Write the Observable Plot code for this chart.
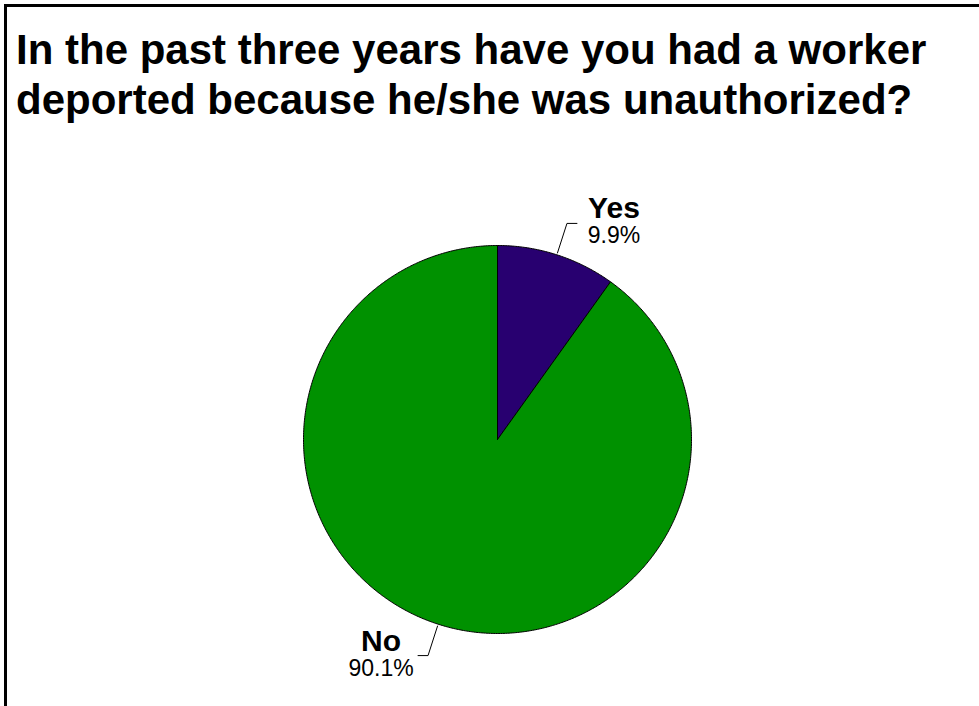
<!DOCTYPE html>
<html><head><meta charset="utf-8">
<script src="https://cdn.jsdelivr.net/npm/d3@7"></script>
<script src="https://cdn.jsdelivr.net/npm/@observablehq/plot@0.6"></script>
<style>
body{margin:0;background:#fff;}
#wrap{position:relative;width:979px;height:706px;overflow:hidden;font-family:"Liberation Sans",Arial,sans-serif;background:#fff;}
#frame{position:absolute;left:4px;top:4px;right:-10px;bottom:-10px;border-left:3px solid #000;border-top:3px solid #000;}
#title{position:absolute;left:16px;top:25px;font-size:42px;font-weight:bold;line-height:50px;color:#000;white-space:nowrap;}
#chart{position:absolute;left:0;top:140px;}
</style></head><body>
<div id="wrap"><div id="frame"></div><div id="title">In the past three years have you had a worker<br>deported because he/she was unauthorized?</div><div id="chart"></div></div>
<script>
const categories = ["Yes", "No"];
const values = [9.9, 90.1];
const valueLabels = ["9.9%", "90.1%"];
const colors = ["#280070", "#009100"];

const W = 979, H = 566, CX = 497, CY = 299, R = 194;
const total = d3.sum(values);
const slices = [];
const leaders = [];
const labels = [];
let cum = 0;
categories.forEach((cat, i) => {
  const a0 = cum / total * 2 * Math.PI;
  cum += values[i];
  const a1 = cum / total * 2 * Math.PI;
  slices.push({cat, x: 0, y: 0});
  const n = Math.max(2, Math.ceil((a1 - a0) / (Math.PI / 360)));
  for (let k = 0; k <= n; k++) {
    const a = a0 + (a1 - a0) * k / n;
    slices.push({cat, x: Math.sin(a), y: Math.cos(a)});
  }
  slices.push({cat, x: 0, y: 0});
  const am = (a0 + a1) / 2;
  const side = Math.sin(am) >= 0 ? 1 : -1;
  const p1 = {x: 1.01 * Math.sin(am), y: 1.01 * Math.cos(am)};
  const p2 = {x: 1.17 * Math.sin(am), y: 1.17 * Math.cos(am)};
  const p3 = {x: p2.x + side * 10 / R, y: p2.y};
  leaders.push({cat, ...p1}, {cat, ...p2}, {cat, ...p3});
  labels.push({cat, value: valueLabels[i], x: p2.x + side * 47 / R, y: p2.y});
});

const plot = Plot.plot({
  width: W, height: H,
  margin: 0,
  x: {domain: [-CX / R, (W - CX) / R], axis: null},
  y: {domain: [-(H - CY) / R, CY / R], axis: null},
  color: {domain: categories, range: colors},
  style: {fontFamily: '"Liberation Sans", Arial, sans-serif', background: "transparent"},
  marks: [
    Plot.line(slices, {x: "x", y: "y", z: "cat", fill: "cat", stroke: "#000", strokeWidth: 1, curve: "linear"}),
    Plot.line(leaders, {x: "x", y: "y", z: "cat", stroke: "#000", strokeWidth: 1}),
    Plot.text(labels, {x: "x", y: "y", text: "cat", fontWeight: "bold", fontSize: 30, fill: "#000", textAnchor: "middle", lineAnchor: "bottom", dy: -5}),
    Plot.text(labels, {x: "x", y: "y", text: "value", fontSize: 23, fill: "#000", textAnchor: "middle", lineAnchor: "bottom", dy: 20})
  ]
});
document.getElementById("chart").appendChild(plot);
</script>
</body></html>
